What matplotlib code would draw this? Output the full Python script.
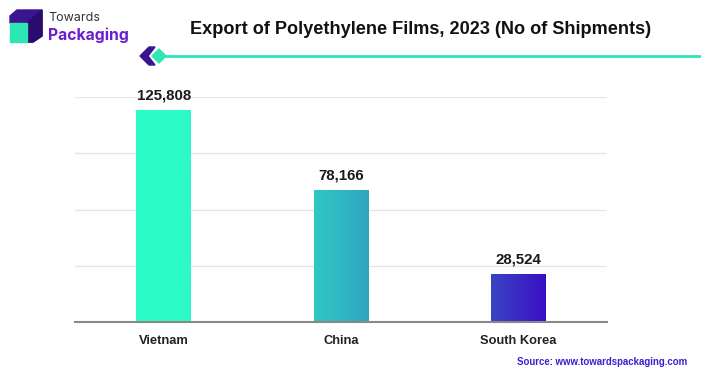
import matplotlib
matplotlib.use("Agg")
import matplotlib.pyplot as plt
import numpy as np
from matplotlib.patches import Polygon, Rectangle
from matplotlib.colors import LinearSegmentedColormap

categories = ["Vietnam", "China", "South Korea"]
values = [125808, 78166, 28524]
value_labels = ["125,808", "78,166", "28,524"]
title = "Export of Polyethylene Films, 2023 (No of Shipments)"
source = "Source: www.towardspackaging.com"

grad_colors = [("#2CFDC8", "#2CFBC9"), ("#30C8C4", "#2FA5C0"), ("#3A45C2", "#3A0FC6")]

plt.rcParams['font.family'] = ['Liberation Sans', 'DejaVu Sans']

W, H = 701, 375
fig = plt.figure(figsize=(W / 100, H / 100), dpi=100)
fig.patch.set_facecolor("white")

def fx(x):
    return x / W

def fy(y):
    return 1 - y / H

ax = fig.add_axes([fx(75), fy(322), fx(607) - fx(75), fy(97) - fy(322)])
ax.set_xlim(-0.5, 2.5)
ymax = 134000
ax.set_ylim(0, ymax)
ax.set_yticks(np.linspace(0, ymax, 5))
ax.yaxis.grid(True, color="#e6e6e6", lw=1)
ax.set_axisbelow(True)
for s in ["top", "right", "left"]:
    ax.spines[s].set_visible(False)
ax.spines["bottom"].set_color("#888888")
ax.spines["bottom"].set_linewidth(1.5)
ax.tick_params(axis="y", left=False, labelleft=False)
ax.tick_params(axis="x", bottom=False, pad=6)
x = np.arange(len(categories))
ax.set_xticks(x)
ax.set_xticklabels(categories, fontsize=9.3, fontweight="bold", color="#222222")

width = 0.31
bars = ax.bar(x, values, width=width, color="none", zorder=2)
for b, (c1, c2), lab in zip(bars, grad_colors, value_labels):
    x0, y0 = b.get_x(), b.get_y()
    w, h = b.get_width(), b.get_height()
    cmap = LinearSegmentedColormap.from_list("g", [c1, c2])
    grad = np.linspace(0, 1, 100).reshape(1, -1)
    ax.imshow(grad, extent=[x0, x0 + w, y0, y0 + h], aspect="auto", cmap=cmap,
              zorder=2, interpolation="bicubic")
    ax.text(x0 + w / 2, y0 + h + ymax * 0.035, lab, ha="center", va="bottom",
            fontsize=10.8, fontweight="bold", color="#1a1a1a", zorder=3)
ax.set_xlim(-0.5, 2.5)
ax.set_ylim(0, ymax)

# Title
fig.text(fx(421), fy(29), title, ha="center", va="center", fontsize=13.1,
         fontweight="bold", color="#111111")

# Header line and chevron
fig.add_artist(plt.Line2D([fx(163), fx(701)], [fy(56), fy(56)], color="#2EE6B4", lw=2))
fig.add_artist(Polygon([(fx(140), fy(56)), (fx(149), fy(47)), (fx(155), fy(47)),
                        (fx(148), fy(56)), (fx(155), fy(65)), (fx(149), fy(65))],
                       closed=True, color="#3A138F", transform=fig.transFigure))
fig.add_artist(Polygon([(fx(152), fy(56)), (fx(159), fy(49)), (fx(166), fy(56)),
                        (fx(159), fy(63))], closed=True, color="#2EE6B4",
                       transform=fig.transFigure))

# Logo
fig.add_artist(Polygon([(fx(10), fy(16)), (fx(17), fy(10)), (fx(42), fy(10)), (fx(42), fy(36)),
                        (fx(33), fy(42)), (fx(27), fy(42)), (fx(27), fy(23)), (fx(10), fy(23))],
                       closed=True, color="#3B1490", transform=fig.transFigure))
fig.add_artist(Polygon([(fx(27), fy(23)), (fx(42), fy(10)), (fx(42), fy(36)), (fx(33), fy(42)), (fx(27), fy(42))],
                       closed=True, color="#2A0B6E", transform=fig.transFigure))
fig.add_artist(Rectangle((fx(10), fy(42)), fx(17), fy(23) - fy(42), color="#2EE6B4",
                         transform=fig.transFigure))
fig.text(fx(48), fy(18), "Towards", ha="left", va="center", fontsize=9, color="#333333",
         family=["Inter", "DejaVu Sans"])
fig.text(fx(48), fy(35), "Packaging", ha="left", va="center", fontsize=11.3,
         fontweight="bold", color="#6A1ED0", family=["Inter", "DejaVu Sans"])

# Source
fig.text(fx(687), fy(362), source, ha="right", va="center", fontsize=6.9,
         fontweight="bold", color="#3A1FCF")

fig.savefig("out.png", dpi=100, facecolor="white")
